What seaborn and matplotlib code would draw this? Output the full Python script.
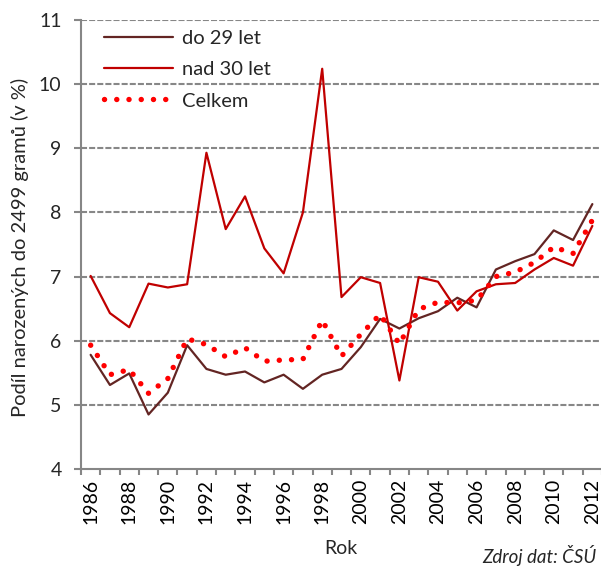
import matplotlib
matplotlib.use("Agg")
import matplotlib.pyplot as plt
import seaborn as sns
import pandas as pd
import numpy as np

years = list(range(1986, 2013))
do29 = [5.78, 5.31, 5.49, 4.85, 5.19, 5.93, 5.56, 5.47, 5.52, 5.35, 5.47, 5.25, 5.47, 5.56,
        5.90, 6.34, 6.19, 6.35, 6.46, 6.67, 6.52, 7.11, 7.24, 7.35, 7.72, 7.57, 8.13]
nad30 = [7.01, 6.43, 6.21, 6.89, 6.83, 6.88, 8.93, 7.74, 8.25, 7.44, 7.05, 8.00, 10.24, 6.68,
         6.99, 6.90, 5.38, 6.99, 6.92, 6.47, 6.77, 6.88, 6.90, 7.11, 7.29, 7.17, 7.79]
celkem = [5.93, 5.47, 5.55, 5.18, 5.41, 6.03, 5.94, 5.75, 5.89, 5.68, 5.70, 5.71, 6.32, 5.76,
          6.10, 6.41, 5.95, 6.49, 6.60, 6.59, 6.63, 7.00, 7.07, 7.22, 7.46, 7.36, 7.88]
series_names = ["do 29 let", "nad 30 let", "Celkem"]
x_tick_labels = [str(y) for y in range(1986, 2013, 2)]
y_ticks = [4, 5, 6, 7, 8, 9, 10, 11]

sns.set_style("white")
plt.rcParams['font.family'] = ['Lato', 'DejaVu Sans']

W, H = 601, 567
fig = plt.figure(figsize=(W / 100, H / 100), dpi=100)
ax = fig.add_axes([81 / W, (H - 469) / H, 521 / W, 449 / H])

df = pd.DataFrame({"Rok": years, series_names[0]: do29, series_names[1]: nad30, series_names[2]: celkem})

sns.lineplot(data=df, x="Rok", y=series_names[0], ax=ax, color="#632523", lw=1.6, label=series_names[0])
sns.lineplot(data=df, x="Rok", y=series_names[1], ax=ax, color="#C00000", lw=1.6, label=series_names[1])
sns.lineplot(data=df, x="Rok", y=series_names[2], ax=ax, color="#FF0000", lw=3.9, label=series_names[2],
             linestyle=(0, (0.01, 2.25)), dash_capstyle="round")

ax.set_xlim(1985.5, 2012.5)
ax.set_ylim(4, 11)
ax.set_yticks(y_ticks)
ax.set_yticklabels([str(v) for v in y_ticks], fontsize=14)
ax.set_xticks(list(range(1986, 2013, 2)))
ax.set_xticklabels(x_tick_labels, rotation=90, fontsize=14)
ax.set_xticks(np.arange(1985.5, 2013, 1), minor=True)
ax.tick_params(axis="x", which="major", length=0, pad=7, colors="black")
ax.tick_params(axis="x", which="minor", length=4, width=1.5, color="#868686", direction="out", bottom=True)
ax.tick_params(axis="y", which="major", length=5, width=1.5, color="#868686", direction="out", left=True, pad=9)

for v in y_ticks[1:]:
    ax.axhline(v, color="#878787", lw=1.5, linestyle=(0, (2.9, 1.0)), zorder=0)

for s in ["top", "right"]:
    ax.spines[s].set_visible(False)
for s in ["left", "bottom"]:
    ax.spines[s].set_color("#868686")
    ax.spines[s].set_linewidth(1.5)

ax.set_xlabel("Rok", fontsize=14)
ax.set_ylabel("Podíl narozených do 2499 gramů (v %)", fontsize=14.5)
ax.xaxis.set_label_coords(341 / W, (H - 548) / H, transform=fig.transFigure)
ax.xaxis.label.set_verticalalignment("center")
ax.yaxis.set_label_coords(20 / W, (H - 247) / H, transform=fig.transFigure)
ax.yaxis.label.set_verticalalignment("center")

ax.legend(loc="upper left", bbox_to_anchor=(96 / W, (H - 22) / H), bbox_transform=fig.transFigure,
          frameon=False, fontsize=14.5, handlelength=3.4, handletextpad=0.45, labelspacing=0.7,
          borderaxespad=0)

fig.text(597 / W, (H - 556) / H, "Zdroj dat: ČSÚ", ha="right", va="center", fontsize=13.5, style="italic")

fig.savefig("out.png", dpi=100)
